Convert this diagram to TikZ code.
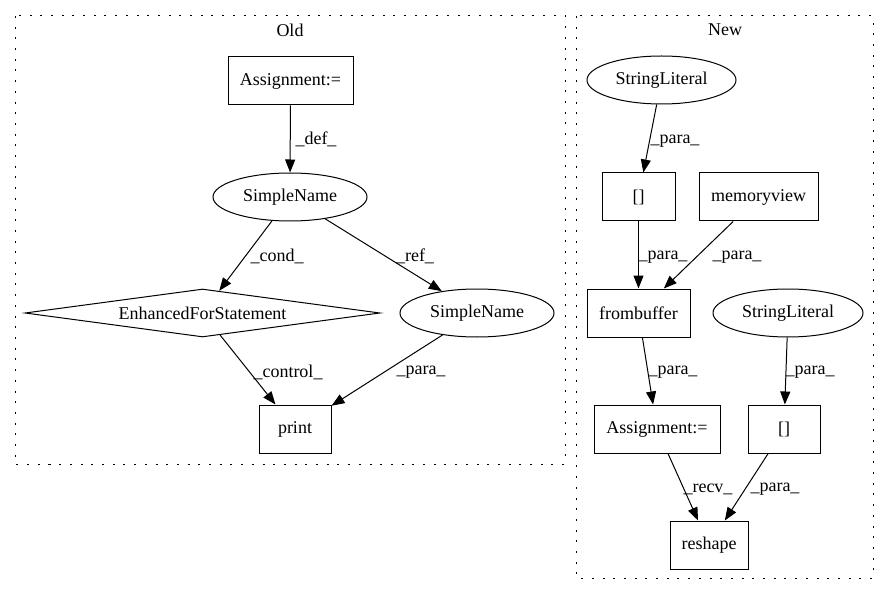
\documentclass[tikz,border=0pt]{standalone}
\usepackage{fontspec}
\setmainfont{Liberation Serif}
\usetikzlibrary{shapes.geometric,arrows.meta}
\begin{document}
\begin{tikzpicture}[x=1pt,y=-1pt,
  every node/.style={font=\fontsize{18}{20}\selectfont, inner sep=0pt},
  box/.style={draw, line width=1pt, rectangle, minimum height=48pt},
  oval/.style={draw, line width=1pt, ellipse, minimum height=48pt},
  dia/.style={draw, line width=1pt, diamond, aspect=7.4, minimum width=355pt, minimum height=48pt},
  edge/.style={draw, line width=1pt, -{Triangle[length=13pt,width=10pt]}},
  lbl/.style={anchor=center},
  cluster/.style={draw, line width=1pt, dash pattern=on 2pt off 8.7pt}]
\useasboundingbox (0,0) rectangle (889,596);
\draw[cluster] (15,16) rectangle (565,464);
\draw[cluster] (576,16) rectangle (873,578);
\node (oldlbl) at (290,30) {Old};
\node (newlbl) at (725,30) {New};
% Old
\node[box, minimum width=125pt] (asg1) at (290.5,81) {Assignment:=};
\node[oval, minimum width=154pt] (sn1) at (290,197) {SimpleName};
\node[dia] (efs) at (202.5,313) {EnhancedForStatement};
\node[oval, minimum width=154pt] (sn2) at (477,313) {SimpleName};
\node[box, minimum width=72pt] (print) at (295,429) {print};
\draw[edge] (asg1) -- (sn1);
\draw[edge] (sn1) -- (efs);
\draw[edge] (sn1) -- (sn2);
\draw[edge] (efs) -- (print);
\draw[edge] (sn2) -- (print);
\node[lbl] (ldef) at (316,139) {\_def\_};
\node[lbl] (lcond) at (277,256) {\_cond\_};
\node[lbl] (lref) at (415,256) {\_ref\_};
\node[lbl] (lctrl) at (288,372) {\_control\_};
\node[lbl] (lpara0) at (421,372) {\_para\_};
% New
\node[oval, minimum width=149pt] (sl1) at (661.5,80) {StringLiteral};
\node[box, minimum width=73pt] (br1) at (638.5,197) {[]};
\node[box, minimum width=119pt] (mv) at (758.5,197) {memoryview};
\node[box, minimum width=103pt] (fb) at (638.5,313) {frombuffer};
\node[oval, minimum width=150pt] (sl2) at (788,313) {StringLiteral};
\node[box, minimum width=126pt] (asg2) at (657,429) {Assignment:=};
\node[box, minimum width=72pt] (br2) at (784,429) {[]};
\node[box, minimum width=78pt] (rs) at (709,545) {reshape};
\draw[edge] (sl1) -- (br1);
\draw[edge] (br1) -- (fb);
\draw[edge] (mv) -- (fb);
\draw[edge] (fb) -- (asg2);
\draw[edge] (sl2) -- (br2);
\draw[edge] (asg2) -- (rs);
\draw[edge] (br2) -- (rs);
\node[lbl] (lp1) at (675,141) {\_para\_};
\node[lbl] (lp2) at (663,257) {\_para\_};
\node[lbl] (lp3) at (737,257) {\_para\_};
\node[lbl] (lp4) at (673,372) {\_para\_};
\node[lbl] (lp5) at (810,372) {\_para\_};
\node[lbl] (lrecv) at (708,489) {\_recv\_};
\node[lbl] (lp6) at (775,489) {\_para\_};
\end{tikzpicture}
\end{document}
